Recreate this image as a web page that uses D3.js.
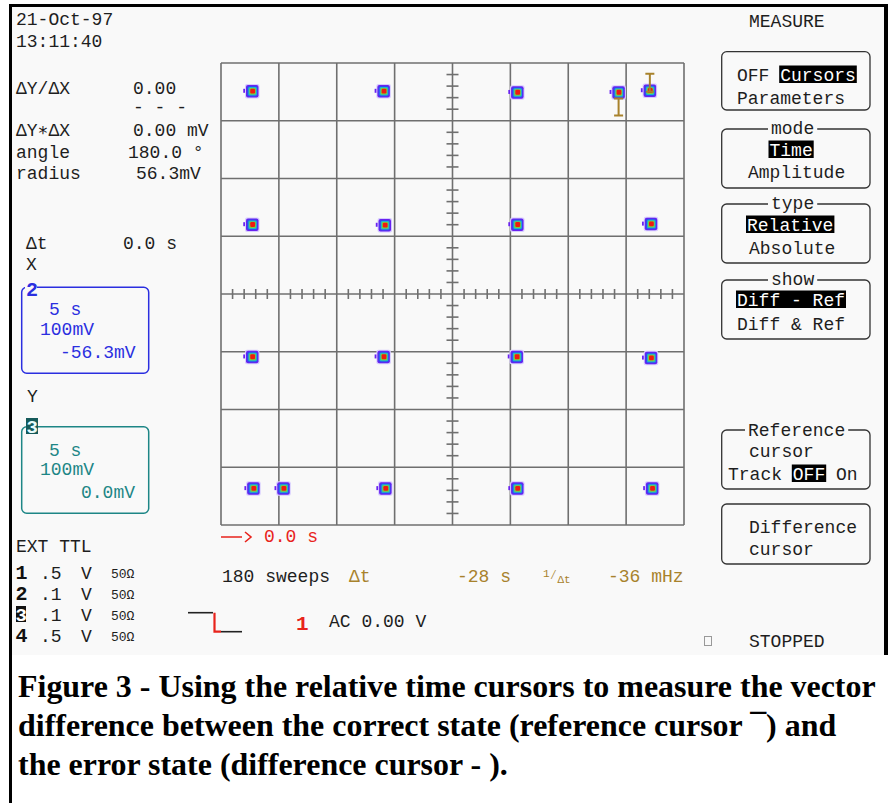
<!DOCTYPE html>
<html><head><meta charset="utf-8">
<script src="https://cdn.jsdelivr.net/npm/d3@7"></script>
<style>html,body{margin:0;padding:0;background:#fff;}svg{display:block;}</style>
</head><body>
<script>
// ---------------- data ----------------
const gridTicks = [-400, -300, -200, -100, 0, 100, 200, 300, 400];   // mV, 100 mV/div
const pointX = [-346, -119, 112, 287, 341, -346, -117, 112, 343, -346, -119, 111, 343, -344, -292, -116, 112, 345];
const pointY = [351, 351, 349, 349, 352, 120, 119, 120, 121, -109, -109, -109, -111, -337, -337, -337, -337, -337];
const refCursor = [341, 352];
const diffCursor = [287, 349];
const dateLines = ["21-Oct-97", "13:11:40"];
const readoutLabels = ["ΔY/ΔX", "ΔY∗ΔX", "angle", "radius"];
const readoutValues = ["0.00", "0.00 mV", "180.0 °", "56.3mV"];
const traceXLines = ["5 s", "100mV", "-56.3mV"];
const traceYLines = ["5 s", "100mV", "0.0mV"];
const channelNums = ["1", "2", "3", "4"];
const channelVolts = [".5", ".1", ".1", ".5"];
const channelUnits = ["V", "V", "V", "V"];
const channelImp = ["50Ω", "50Ω", "50Ω", "50Ω"];
const bottomReadout = ["180 sweeps", "Δt", "-28 s", "-36 mHz"];
const captionLines = [
  "Figure 3 - Using the relative time cursors to measure the vector",
  "difference between the correct state (reference cursor ¯) and",
  "the error state (difference cursor - )."
];

// ---------------- setup ----------------
const W = 888, H = 803;
const svg = d3.select("body").append("svg").attr("width", W).attr("height", H);
const BG = "#f9f9f9", INK = "#1e1e1e", GOLD = "#a8822c", RED = "#e8231c";
const BLUE = "#2b2fe0", TEAL = "#1d8686";
const MONO = "'Liberation Mono','DejaVu Sans Mono',monospace";

svg.append("rect").attr("width", W).attr("height", H).attr("fill", "#fff");
svg.append("rect").attr("x", 12).attr("y", 7).attr("width", 872).attr("height", 648).attr("fill", BG);
// frame
svg.append("rect").attr("x", 9).attr("y", 4).attr("width", 3).attr("height", H - 4).attr("fill", "#000");
svg.append("rect").attr("x", 9).attr("y", 4).attr("width", W - 9).attr("height", 3).attr("fill", "#000");
svg.append("rect").attr("x", 884).attr("y", 4).attr("width", 4).attr("height", 651).attr("fill", "#000");

function txt(g, x, y, s, o = {}) {
  return g.append("text").attr("x", x).attr("y", y)
    .attr("font-family", o.family || MONO)
    .attr("font-size", o.size || 18)
    .attr("font-weight", o.weight || "normal")
    .attr("fill", o.fill || INK)
    .attr("text-anchor", o.anchor || "start")
    .text(s);
}

// ---------------- grid ----------------
const x = d3.scaleLinear().domain([-400, 400]).range([221, 684]);
const y = d3.scaleLinear().domain([-400, 400]).range([525, 63]);
const grid = svg.append("g").attr("stroke", "#6f6f6f").attr("stroke-width", 1.6);
grid.selectAll("line.v").data(gridTicks).join("line")
  .attr("x1", d => x(d)).attr("x2", d => x(d)).attr("y1", y(-400)).attr("y2", y(400));
grid.selectAll("line.h").data(gridTicks).join("line")
  .attr("y1", d => y(d)).attr("y2", d => y(d)).attr("x1", x(-400)).attr("x2", x(400));
const minor = d3.range(-400, 400, 20).filter(v => v % 100 !== 0);
grid.selectAll("line.mv").data(minor).join("line")
  .attr("x1", x(0) - 6).attr("x2", x(0) + 6).attr("y1", d => y(d)).attr("y2", d => y(d));
grid.selectAll("line.mh").data(minor).join("line")
  .attr("y1", y(0) - 5).attr("y2", y(0) + 5).attr("x1", d => x(d)).attr("x2", d => x(d));

// ---------------- constellation blobs ----------------
const layers = [[14.5, "#d6ccff", 0, 0], [12.5, "#6a22f0", 0, 0], [10.5, "#3048f2", 0, 0], [8.5, "#20b4cc", 0.3, 0], [6.5, "#7ad23c", 0.3, 0], [4.8, "#f01a10", 0.4, -0.2]];
const pts = svg.append("g");
pointX.forEach((px, i) => {
  const g = pts.append("g").attr("transform", `translate(${x(px)},${y(pointY[i])})`);
  g.append("rect").attr("x", -9).attr("y", -2.5).attr("width", 5).attr("height", 4).attr("fill", "#6a22f0");
  layers.forEach(([s, c, ox, oy]) => {
    g.append("rect").attr("x", -s / 2 + ox).attr("y", -s / 2 + oy).attr("width", s).attr("height", s)
      .attr("rx", s > 10 ? 2 : 1.2).attr("fill", c);
  });
});

// ---------------- cursors ----------------
const cur = svg.append("g").attr("stroke", GOLD).attr("stroke-width", 2).attr("fill", "none");
{
  const cx = x(refCursor[0]), cy = y(refCursor[1]);
  cur.append("path").attr("d", `M${cx},${cy + 1}V${cy - 17}M${cx - 4.5},${cy - 17}H${cx + 4.5}M${cx - 4},${cy + 1}H${cx + 4}`);
  const dx = x(diffCursor[0]), dy = y(diffCursor[1]);
  cur.append("path").attr("d", `M${dx},${dy + 6}V${dy + 23}M${dx - 4.5},${dy + 6}H${dx + 4.5}M${dx - 4.5},${dy + 23}H${dx + 4.5}`);
}

// ---------------- left panel ----------------
const L = svg.append("g");
txt(L, 16, 25, dateLines[0]);
txt(L, 16, 47, dateLines[1]);
const roY = [94, 136, 158, 179], roX = [133, 133, 128, 136];
readoutLabels.forEach((s, i) => {
  txt(L, 16, roY[i], s);
  txt(L, roX[i], roY[i], readoutValues[i]);
});
txt(L, 133, 113, "- - -");
txt(L, 26, 249, "Δt");
txt(L, 123, 249, "0.0 s");
txt(L, 26, 270, "X");

// channel 2 box
L.append("rect").attr("x", 21.7).attr("y", 287.3).attr("width", 127).attr("height", 86).attr("rx", 5)
  .attr("fill", "none").attr("stroke", BLUE).attr("stroke-width", 1.5);
L.append("rect").attr("x", 25).attr("y", 282).attr("width", 12).attr("height", 14).attr("fill", BG);
txt(L, 26, 296, "2", { weight: "bold", size: 20, fill: BLUE });
txt(L, 49, 315, traceXLines[0], { fill: BLUE });
txt(L, 40, 335, traceXLines[1], { fill: BLUE });
txt(L, 60, 358, traceXLines[2], { fill: BLUE });
txt(L, 27, 402, "Y");
// channel 3 box
L.append("rect").attr("x", 21.7).attr("y", 426.7).attr("width", 127).attr("height", 86.6).attr("rx", 5)
  .attr("fill", "none").attr("stroke", TEAL).attr("stroke-width", 1.5);
L.append("rect").attr("x", 26).attr("y", 418).attr("width", 12).attr("height", 16).attr("fill", "#155a5a");
txt(L, 26.5, 433, "3", { weight: "bold", size: 19, fill: "#e8fbfb" });
txt(L, 49, 456, traceYLines[0], { fill: TEAL });
txt(L, 40, 475, traceYLines[1], { fill: TEAL });
txt(L, 81, 498, traceYLines[2], { fill: TEAL });

txt(L, 16, 552, "EXT TTL");
const chY = [579, 600, 621, 642];
channelNums.forEach((n, i) => {
  if (n === "3") {
    L.append("rect").attr("x", 16).attr("y", chY[i] - 15).attr("width", 10).attr("height", 16).attr("fill", "#111");
    txt(L, 15.5, chY[i], n, { weight: "bold", size: 19, fill: "#fff" });
  } else {
    txt(L, 15.5, chY[i], n, { weight: "bold", size: 20, fill: "#111" });
  }
  txt(L, 40, chY[i], channelVolts[i]);
  txt(L, 81, chY[i], channelUnits[i]);
  txt(L, 111, chY[i] - 1, channelImp[i], { size: 13 });
});

// ---------------- bottom readouts ----------------
const B = svg.append("g");
B.append("path").attr("d", "M221,537H242M245,532L251,537L245,542").attr("stroke", RED).attr("stroke-width", 1.6).attr("fill", "none");
txt(B, 264, 542, "0.0 s", { fill: RED });
txt(B, 222, 582, bottomReadout[0]);
txt(B, 349, 582, bottomReadout[1], { fill: GOLD });
txt(B, 457, 582, bottomReadout[2], { fill: GOLD });
{
  const t = B.append("text").attr("x", 543).attr("y", 582).attr("font-family", MONO).attr("fill", GOLD);
  t.append("tspan").attr("font-size", 11).attr("dy", -5).text("1");
  t.append("tspan").attr("font-size", 13).attr("dy", 2).text("⁄");
  t.append("tspan").attr("font-size", 11).attr("dy", 4).text("Δt");
}
txt(B, 608, 582, bottomReadout[3], { fill: GOLD });
B.append("path").attr("d", "M188,612.7H213").attr("stroke", "#222").attr("stroke-width", 1.6).attr("fill", "none");
B.append("path").attr("d", "M214.5,612.7V631.7H221").attr("stroke", RED).attr("stroke-width", 2.2).attr("fill", "none");
B.append("path").attr("d", "M221,631.7H242").attr("stroke", "#222").attr("stroke-width", 1.6).attr("fill", "none");
txt(B, 296, 630, "1", { weight: "bold", size: 21, fill: RED });
txt(B, 329, 627, "AC 0.00 V");

// ---------------- right menu ----------------
const R = svg.append("g");
txt(R, 749, 27, "MEASURE");
const CW = 10.8;
const boxes = [
  { y0: 51.7, y1: 110, title: null, lines: [{ x: 737, y: 81, t: "OFF Cursors", hl: [4, 11] }, { x: 737, y: 104, t: "Parameters" }] },
  { y0: 129, y1: 188, title: "mode", tx: 771, lines: [{ x: 769.5, y: 156, t: "Time", hl: [0, 4] }, { x: 748, y: 178, t: "Amplitude" }] },
  { y0: 204, y1: 263, title: "type", tx: 771, lines: [{ x: 747, y: 231, t: "Relative", hl: [0, 8] }, { x: 749, y: 254, t: "Absolute" }] },
  { y0: 280, y1: 339, title: "show", tx: 771, lines: [{ x: 737, y: 306, t: "Diff - Ref", hl: [0, 10] }, { x: 737, y: 330, t: "Diff & Ref" }] },
  { y0: 430, y1: 489, title: "Reference", tx: 748, lines: [{ x: 749, y: 457, t: "cursor" }, { x: 728, y: 480, t: "Track OFF On", hl: [6, 9] }] },
  { y0: 504, y1: 564, title: null, lines: [{ x: 749, y: 533, t: "Difference" }, { x: 749, y: 555, t: "cursor" }] }
];
boxes.forEach(b => {
  R.append("rect").attr("x", 721.7).attr("y", b.y0).attr("width", 148.3).attr("height", b.y1 - b.y0).attr("rx", 5)
    .attr("fill", "none").attr("stroke", "#333").attr("stroke-width", 1.3);
  if (b.title) {
    R.append("rect").attr("x", b.tx - 3).attr("y", b.y0 - 3).attr("width", b.title.length * CW + 6).attr("height", 6).attr("fill", BG);
    txt(R, b.tx, b.y0 + (b.title === "Reference" ? 6 : 5), b.title);
  }
  b.lines.forEach(l => {
    if (l.hl) {
      R.append("rect").attr("x", l.x + l.hl[0] * CW - 1).attr("y", l.y - 15.5)
        .attr("width", (l.hl[1] - l.hl[0]) * CW + 2).attr("height", 17.5).attr("fill", "#000");
      const t = R.append("text").attr("x", l.x).attr("y", l.y).attr("font-family", MONO).attr("font-size", 18).attr("fill", INK);
      t.append("tspan").text(l.t.slice(0, l.hl[0]));
      t.append("tspan").attr("fill", "#fff").text(l.t.slice(l.hl[0], l.hl[1]));
      t.append("tspan").text(l.t.slice(l.hl[1]));
    } else {
      txt(R, l.x, l.y, l.t);
    }
  });
});
R.append("rect").attr("x", 704.5).attr("y", 636.5).attr("width", 7).attr("height", 9).attr("fill", "none").attr("stroke", "#999").attr("stroke-width", 1);
txt(R, 749, 647, "STOPPED");

// ---------------- caption ----------------
const C = svg.append("g").attr("font-family", "'Liberation Serif','Times New Roman',serif").attr("font-weight", "bold").attr("fill", "#000");
const capY = [697, 736, 775];
const capT = captionLines.map((s, i) => C.append("text").attr("x", 18).attr("y", capY[i]).attr("font-size", 28).text(s));
const w0 = capT[0].node().getComputedTextLength();
const fs = 28 * 858 / w0;
capT.forEach(t => t.attr("font-size", fs));
</script>
</body></html>
